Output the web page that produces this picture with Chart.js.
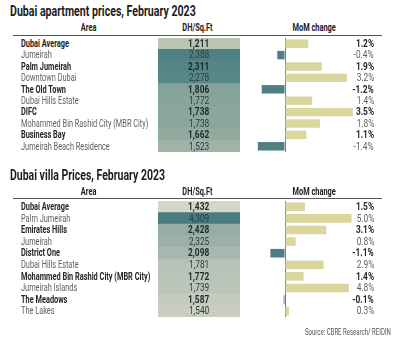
<!DOCTYPE html>
<html><head><meta charset="utf-8">
<script src="https://cdn.jsdelivr.net/npm/chart.js@4.4.1/dist/chart.umd.min.js"></script>
<style>
html,body{margin:0;padding:0;background:#fff;width:400px;height:337px;overflow:hidden;
 font-family:Roboto,"Liberation Sans",sans-serif;}
.abs{position:absolute;}
.s{display:inline-block;white-space:nowrap;}
.title{font-weight:bold;font-size:15.5px;color:#1c1c1c;line-height:16px;}
.hdr{font-weight:bold;font-size:11px;color:#222;line-height:12px;}
.rule{height:1px;background:#555;}
.row{position:absolute;font-size:10.8px;white-space:nowrap;}
.num{font-size:11.5px;}
.b{font-weight:bold;color:#262626;}
.r{font-weight:normal;color:#5e5e5e;}
.cb{font-weight:bold;color:#1d292b;}
.cr{font-weight:normal;color:#2f3b3d;}
.src{font-size:9.5px;color:#555;}
</style>
</head><body>
<div id="root"></div>
<script>
// ---------- DATA ----------
const aptTitle = "Dubai apartment prices, February 2023";
const aptAreas = ["Dubai Average","Jumeirah","Palm Jumeirah","Downtown Dubai","The Old Town","Dubai Hills Estate","DIFC","Mohammed Bin Rashid City (MBR City)","Business Bay","Jumeirah Beach Residence"];
const aptPrices = [1211,2388,2311,2278,1806,1772,1738,1738,1662,1523];
const aptMoM = [1.2,-0.4,1.9,3.2,-1.2,1.4,3.5,1.8,1.1,-1.4];
const aptEmphasis = ["Dubai Average","Palm Jumeirah","The Old Town","DIFC","Business Bay"];

const villaTitle = "Dubai villa Prices, February 2023";
const villaAreas = ["Dubai Average","Palm Jumeirah","Emirates Hills","Jumeirah","District One","Dubai Hills Estate","Mohammed Bin Rashid City (MBR City)","Jumeirah Islands","The Meadows","The Lakes"];
const villaPrices = [1432,4309,2428,2325,2098,1781,1772,1739,1587,1540];
const villaMoM = [1.5,5.0,3.1,0.8,-1.1,2.9,1.4,4.8,-0.1,0.3];
const villaEmphasis = ["Dubai Average","Emirates Hills","District One","Mohammed Bin Rashid City (MBR City)","The Meadows"];

const headers = ["Area","DH/Sq.Ft","MoM change"];
const sourceText = "Source: CBRE Research/ REIDIN";

// ---------- DRAWING ----------
const root = document.getElementById('root');
function el(tag, cls, css, html){
  const e=document.createElement(tag); if(cls) e.className=cls;
  Object.assign(e.style, css||{}); if(html!==undefined) e.innerHTML=html; root.appendChild(e); return e;
}
// horizontal condensing factor measured from a probe string and a target width
function factor(cls, text, target){
  const p = el('div','abs '+cls,{left:'0px',top:'-100px'},'<span class="s">'+text+'</span>');
  const w = p.firstChild.offsetWidth; root.removeChild(p); return target/w;
}
const fTitleA = factor('title', aptTitle, 186);
const fTitleV = factor('title', villaTitle, 155);
const fHdr = factor('hdr', 'MoM change', 43);
const fRow = factor('row r', 'Mohammed Bin Rashid City (MBR City)', 127);
const fNum = factor('row num cb', '2,388', 21);
const fSrc = factor('src', sourceText, 86);
function sp(t, f, origin){return '<span class="s" style="transform:scaleX('+f+');transform-origin:'+origin+' center">'+t+'</span>';}

function hex(c){return [parseInt(c.slice(1,3),16),parseInt(c.slice(3,5),16),parseInt(c.slice(5,7),16)];}
function mix(a,b,t){const A=hex(a),B=hex(b);return 'rgb('+A.map((v,i)=>Math.round(v+(B[i]-v)*t)).join(',')+')';}

function section(cfg){
  const {title, fTitle, areas, prices, mom, emphasis, top, rowTop, rowH, pxPerPct, light, dark, gamma} = cfg;
  el('div','abs title',{left:'10px',top:top+'px'},sp(title,fTitle,'left'));
  const hy = top+19;
  el('div','abs hdr',{left:'49px',width:'80px',textAlign:'center',top:hy+'px'},sp(headers[0],fHdr,'center'));
  el('div','abs hdr',{left:'156px',width:'82px',textAlign:'center',top:hy+'px'},sp(headers[1],fHdr,'center'));
  el('div','abs hdr',{left:'264px',width:'100px',textAlign:'center',top:hy+'px'},sp(headers[2],fHdr,'center'));
  el('div','abs rule',{left:'13px',width:'369px',top:(rowTop-3)+'px'});

  const n = areas.length, H = rowH*n;
  const mn = Math.min(...prices), mx = Math.max(...prices);
  // price cells (heat column)
  const cw = el('div','abs',{left:'158px',top:rowTop+'px',width:'82px',height:H+'px'});
  const c1 = document.createElement('canvas'); c1.width=82; c1.height=Math.round(H); cw.appendChild(c1);
  new Chart(c1,{type:'bar',
    data:{labels:areas,datasets:[{data:prices.map(()=>[0,1]),
      backgroundColor:ctx=>mix(light,dark,Math.pow((prices[ctx.dataIndex]-mn)/(mx-mn),gamma)),
      barPercentage:1,categoryPercentage:1,borderWidth:0}]},
    options:{indexAxis:'y',responsive:false,animation:false,layout:{padding:0},
      plugins:{legend:{display:false},tooltip:{enabled:false}},
      scales:{x:{display:false,min:0,max:1},y:{display:false}}}});
  // MoM bars
  const left=240, width=145, zero=285;
  const xmin = -(zero-left)/pxPerPct, xmax = (left+width-zero)/pxPerPct;
  const mw = el('div','abs',{left:left+'px',top:(rowTop-1)+'px',width:width+'px',height:(H+3)+'px'});
  const c2 = document.createElement('canvas'); c2.width=width; c2.height=Math.round(H+3); mw.appendChild(c2);
  new Chart(c2,{type:'bar',
    data:{labels:areas,datasets:[{data:mom,
      backgroundColor:ctx=>ctx.raw>=0?'#dad69d':'#4d7f83',
      barPercentage:0.74,categoryPercentage:1,borderWidth:0}]},
    options:{indexAxis:'y',responsive:false,animation:false,layout:{padding:{top:1,bottom:2}},
      plugins:{legend:{display:false},tooltip:{enabled:false}},
      scales:{
        x:{min:xmin,max:xmax,display:true,border:{display:false},
           ticks:{display:false,stepSize:1},
           grid:{drawTicks:false,lineWidth:1,
             color:ctx=>(ctx.tick&&Math.abs(ctx.tick.value)<1e-9)?'#7a7a7a':'rgba(0,0,0,0)'},
           afterFit:s=>{s.height=0;}},
        y:{display:false}}}});
  // text rows
  areas.forEach((a,i)=>{
    const em = emphasis.includes(a);
    const y = rowTop + i*rowH;
    const css = {top:y+'px',height:rowH+'px',lineHeight:rowH+'px'};
    el('div','row '+(em?'b':'r'),Object.assign({left:'21px'},css),sp(a,fRow,'left'));
    el('div','row num '+(em?'cb':'cr'),Object.assign({left:'158px',width:'82px',textAlign:'center'},css),sp(prices[i].toLocaleString('en-US'),fNum,'center'));
    el('div','row num '+(em?'b':'r'),Object.assign({right:'26px',textAlign:'right'},css),sp(mom[i].toFixed(1)+'%',fNum,'right'));
  });
}

section({title:aptTitle,fTitle:fTitleA,areas:aptAreas,prices:aptPrices,mom:aptMoM,emphasis:aptEmphasis,
  top:3,rowTop:38,rowH:11.4,pxPerPct:19.4,light:'#bcc5b2',dark:'#4e8183',gamma:1});
section({title:villaTitle,fTitle:fTitleV,areas:villaAreas,prices:villaPrices,mom:villaMoM,emphasis:villaEmphasis,
  top:167,rowTop:201,rowH:11.6,pxPerPct:13.3,light:'#d5d6c7',dark:'#4a7b7d',gamma:0.75});

el('div','abs src',{right:'9px',top:'326px'},sp(sourceText,fSrc,'right'));
</script>
</body></html>
